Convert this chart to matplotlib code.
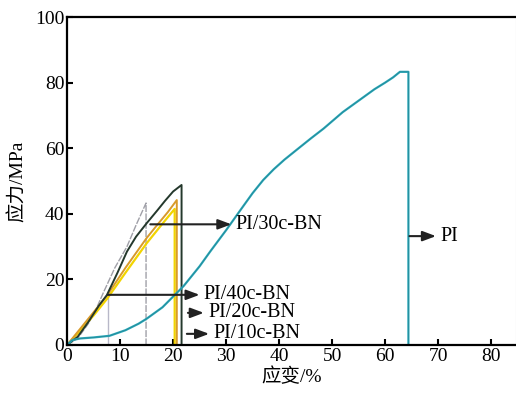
import numpy as np
import matplotlib.pyplot as plt

plt.rcParams['font.family'] = ['Liberation Serif', 'Noto Sans CJK SC']

# 应变(%) / 应力(MPa)
pi_x = [0, 1, 2.5, 5, 8, 11, 13.5, 15, 18, 22, 25, 27, 30, 33, 35, 37, 39, 41, 43.3, 46,
        48.4, 52, 55, 58, 60, 61.5, 62.8, 64.4, 64.4]
pi_y = [0, 1.5, 2.0, 2.3, 2.8, 4.5, 6.5, 8.0, 11.5, 18, 24, 28.5, 35, 41.8, 46.3, 50.3,
        53.6, 56.5, 59.5, 63, 66, 71, 74.5, 78, 80, 81.6, 83.3, 83.3, 0]

bn10_x = [0, 2, 5, 7.5, 11, 15, 18, 20.3, 20.3]
bn10_y = [0, 3.5, 9, 14, 22, 31, 37, 41.5, 0]

bn20_x = [0, 2, 5, 7.5, 11, 15, 17, 19, 20.7, 20.7]
bn20_y = [0, 4, 10, 15, 23.5, 32.6, 36.6, 40.5, 44.2, 0]

bn30_x = [0, 2, 4, 6, 7.5, 9.5, 11.3, 13, 15, 17, 18.5, 20, 21.6, 21.6]
bn30_y = [0, 2.5, 7, 12, 15.2, 22, 28.5, 33, 37.1, 41, 44, 46.8, 48.8, 0]

bn40_x = [0, 2, 4, 5.5, 6.8, 9, 11.3, 13, 14.9, 14.9]
bn40_y = [0, 2, 6.5, 11, 15.8, 23.5, 30, 36.5, 43.3, 0]

# thin guide from the PI/40c-BN arrow down to the axis
guide_x = [7.7, 7.7]
guide_y = [0, 15.3]

labels = ['PI/30c-BN', 'PI/40c-BN', 'PI/20c-BN', 'PI/10c-BN', 'PI']
arrow_start = [(15.7, 36.8), (7.7, 15.3), (22.8, 9.8), (22.6, 3.4), (64.6, 33.2)]
arrow_end = [(31.0, 36.8), (25.0, 15.3), (25.8, 9.8), (26.8, 3.4), (69.6, 33.2)]

fig = plt.figure(figsize=(5.16, 3.97), dpi=100)
ax = fig.add_axes([0.130, 0.131, 0.870, 0.826])

ax.plot(guide_x, guide_y, color='#b8b8c8', lw=1.0)
ax.plot(bn40_x, bn40_y, color='#a0a0a8', lw=1.0, ls=(0, (5, 1)))
ax.plot(bn10_x, bn10_y, color='#f2d400', lw=1.6)
ax.plot(bn20_x, bn20_y, color='#d89a2a', lw=1.4)
ax.plot(bn30_x, bn30_y, color='#24382c', lw=1.4)
ax.plot(pi_x, pi_y, color='#2aa8b8', lw=1.6)
ax.plot(pi_x, pi_y, color='#1f6f80', lw=0.5, alpha=0.6)

for lab, s, e in zip(labels, arrow_start, arrow_end):
    ax.annotate('', xy=e, xytext=s,
                arrowprops=dict(arrowstyle='-|>,head_length=0.8,head_width=0.3',
                                color='#222222', lw=1.5, shrinkA=0, shrinkB=0))
    ax.text(e[0] + 0.8, e[1], lab, fontsize=14.5, va='center', ha='left')

ax.set_xlim(0, 84.7)
ax.set_ylim(0, 100)
ax.set_xticks(np.arange(0, 81, 10))
ax.set_yticks(np.arange(0, 101, 20))
ax.tick_params(direction='in', length=4, width=1.5, labelsize=14, pad=2)
for side in ['left', 'bottom', 'top']:
    ax.spines[side].set_linewidth(1.6)
ax.spines['right'].set_color('#cccccc')
ax.spines['right'].set_linewidth(0.8)

ax.set_xlabel('应变/%', fontsize=14, labelpad=2)
ax.set_ylabel('应力/MPa', fontsize=14, labelpad=6)

fig.savefig('out.png', dpi=100)
